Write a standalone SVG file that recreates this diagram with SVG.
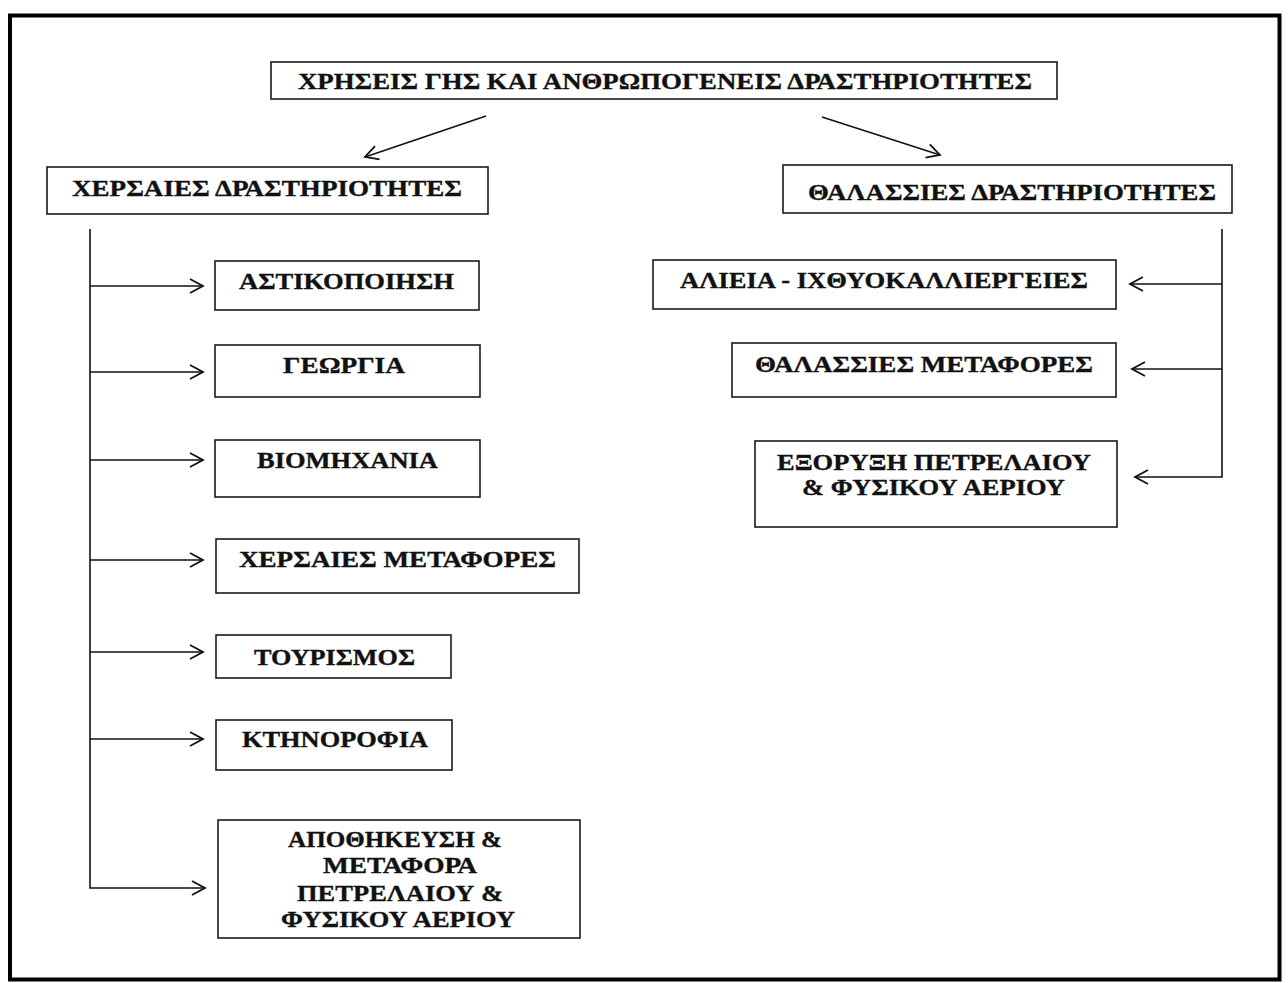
<svg xmlns="http://www.w3.org/2000/svg" width="1288" height="983" viewBox="0 0 1288 983">
<style>
.box{fill:#fff;stroke:#1a1a1a;stroke-width:1.6}
.t{font-family:"Liberation Serif","Times New Roman",serif;font-weight:bold;font-size:24px;fill:#111;stroke:#111;stroke-width:0.35}
.c{fill:none;stroke:#111;stroke-width:1.6}
</style>
<defs>
<marker id="ah" markerUnits="userSpaceOnUse" markerWidth="16" markerHeight="18" refX="14" refY="8" orient="auto">
<path d="M1,1 L14,8 L1,15" fill="none" stroke="#111" stroke-width="1.8"/>
</marker>
</defs>
<rect x="0" y="0" width="1288" height="983" fill="#fff"/>
<rect id="frame" x="10" y="15.5" width="1269.5" height="964" fill="none" stroke="#000" stroke-width="4"/>

<g id="connectors">
<line class="c" x1="486" y1="116" x2="365" y2="157" marker-end="url(#ah)"/>
<line class="c" x1="822" y1="117" x2="940" y2="155" marker-end="url(#ah)"/>
<polyline class="c" points="90,229 90,888 205,888" marker-end="url(#ah)"/>
<line class="c" x1="90" y1="286" x2="203" y2="286" marker-end="url(#ah)"/>
<line class="c" x1="90" y1="372" x2="203" y2="372" marker-end="url(#ah)"/>
<line class="c" x1="90" y1="460" x2="203" y2="460" marker-end="url(#ah)"/>
<line class="c" x1="90" y1="560" x2="203" y2="560" marker-end="url(#ah)"/>
<line class="c" x1="90" y1="652" x2="203" y2="652" marker-end="url(#ah)"/>
<line class="c" x1="90" y1="739" x2="203" y2="739" marker-end="url(#ah)"/>
<polyline class="c" points="1222,229 1222,477 1135,477" marker-end="url(#ah)"/>
<line class="c" x1="1222" y1="284" x2="1130" y2="284" marker-end="url(#ah)"/>
<line class="c" x1="1222" y1="369" x2="1132" y2="369" marker-end="url(#ah)"/>
</g>

<g id="n-root"><rect class="box" x="271" y="62" width="786" height="37"/>
<text class="t" x="298" y="89" textLength="734" lengthAdjust="spacingAndGlyphs">ΧΡΗΣΕΙΣ ΓΗΣ ΚΑΙ ΑΝΘΡΩΠΟΓΕΝΕΙΣ ΔΡΑΣΤΗΡΙΟΤΗΤΕΣ</text></g>

<g id="n-land"><rect class="box" x="47" y="167" width="441" height="47"/>
<text class="t" x="72" y="196" textLength="390" lengthAdjust="spacingAndGlyphs">ΧΕΡΣΑΙΕΣ ΔΡΑΣΤΗΡΙΟΤΗΤΕΣ</text></g>

<g id="n-sea"><rect class="box" x="783" y="165" width="449" height="48"/>
<text class="t" x="808" y="200" textLength="408" lengthAdjust="spacingAndGlyphs">ΘΑΛΑΣΣΙΕΣ ΔΡΑΣΤΗΡΙΟΤΗΤΕΣ</text></g>

<g id="n-urban"><rect class="box" x="215" y="261" width="264" height="49"/>
<text class="t" x="239" y="289" textLength="215" lengthAdjust="spacingAndGlyphs">ΑΣΤΙΚΟΠΟΙΗΣΗ</text></g>

<g id="n-agri"><rect class="box" x="215" y="345" width="265" height="52"/>
<text class="t" x="283" y="373" textLength="122" lengthAdjust="spacingAndGlyphs">ΓΕΩΡΓΙΑ</text></g>

<g id="n-industry"><rect class="box" x="215" y="440" width="265" height="57"/>
<text class="t" x="257" y="468" textLength="181" lengthAdjust="spacingAndGlyphs">ΒΙΟΜΗΧΑΝΙΑ</text></g>

<g id="n-landtransport"><rect class="box" x="216" y="539" width="363" height="54"/>
<text class="t" x="239" y="567" textLength="317" lengthAdjust="spacingAndGlyphs">ΧΕΡΣΑΙΕΣ ΜΕΤΑΦΟΡΕΣ</text></g>

<g id="n-tourism"><rect class="box" x="216" y="635" width="235" height="43"/>
<text class="t" x="254" y="665" textLength="161" lengthAdjust="spacingAndGlyphs">ΤΟΥΡΙΣΜΟΣ</text></g>

<g id="n-livestock"><rect class="box" x="216" y="720" width="236" height="50"/>
<text class="t" x="242" y="747" textLength="186" lengthAdjust="spacingAndGlyphs">ΚΤΗΝΟΡΟΦΙΑ</text></g>

<g id="n-storage"><rect class="box" x="218" y="820" width="362" height="118"/>
<text class="t" x="288" y="847" textLength="214" lengthAdjust="spacingAndGlyphs">ΑΠΟΘΗΚΕΥΣΗ &amp;</text>
<text class="t" x="323" y="873" textLength="154" lengthAdjust="spacingAndGlyphs">ΜΕΤΑΦΟΡΑ</text>
<text class="t" x="297" y="901" textLength="206" lengthAdjust="spacingAndGlyphs">ΠΕΤΡΕΛΑΙΟΥ &amp;</text>
<text class="t" x="281" y="927" textLength="234" lengthAdjust="spacingAndGlyphs">ΦΥΣΙΚΟΥ ΑΕΡΙΟΥ</text></g>

<g id="n-fishing"><rect class="box" x="653" y="260" width="463" height="49"/>
<text class="t" x="680" y="288" textLength="408" lengthAdjust="spacingAndGlyphs">ΑΛΙΕΙΑ - ΙΧΘΥΟΚΑΛΛΙΕΡΓΕΙΕΣ</text></g>

<g id="n-seatransport"><rect class="box" x="732" y="343" width="384" height="54"/>
<text class="t" x="755" y="372" textLength="338" lengthAdjust="spacingAndGlyphs">ΘΑΛΑΣΣΙΕΣ ΜΕΤΑΦΟΡΕΣ</text></g>

<g id="n-extraction"><rect class="box" x="755" y="441" width="362" height="86"/>
<text class="t" x="777" y="470" textLength="314" lengthAdjust="spacingAndGlyphs">ΕΞΟΡΥΞΗ ΠΕΤΡΕΛΑΙΟΥ</text>
<text class="t" x="802" y="495" textLength="263" lengthAdjust="spacingAndGlyphs">&amp; ΦΥΣΙΚΟΥ ΑΕΡΙΟΥ</text></g>
</svg>
